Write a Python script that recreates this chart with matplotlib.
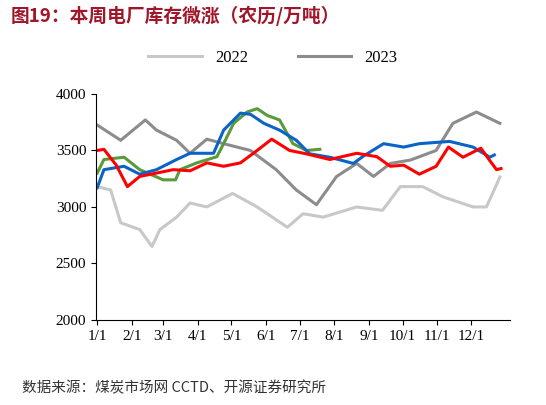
import matplotlib.pyplot as plt

plt.rcParams['font.family'] = ['Noto Sans CJK SC', 'DejaVu Sans']

# 农历日序（天） / 库存（万吨）
d22 = [0, 12, 21, 38, 49, 56, 71, 83, 98, 121, 143, 170, 184, 202, 232, 255, 271, 291, 309, 336, 348, 360]
v22 = [3180, 3150, 2860, 2800, 2650, 2800, 2910, 3035, 3000, 3120, 3000, 2820, 2940, 2910, 3000, 2970, 3180, 3180, 3090, 3000, 3000, 3265]

d23 = [0, 21, 43, 53, 71, 83, 98, 113, 137, 160, 178, 196, 214, 232, 247, 262, 280, 303, 318, 339, 360]
v23 = [3725, 3590, 3770, 3680, 3590, 3475, 3600, 3560, 3500, 3330, 3150, 3020, 3270, 3385, 3270, 3385, 3415, 3500, 3740, 3840, 3740]

d_blue = [0, 6, 24, 38, 53, 71, 83, 104, 113, 128, 137, 149, 163, 178, 190, 208, 229, 238, 256, 274, 288, 315, 336, 351, 355]
v_blue = [3170, 3330, 3360, 3290, 3330, 3420, 3475, 3475, 3680, 3830, 3820, 3740, 3680, 3590, 3470, 3440, 3385, 3450, 3560, 3530, 3560, 3580, 3530, 3440, 3460]

d_red = [0, 6, 17, 27, 38, 53, 68, 83, 98, 113, 128, 143, 156, 172, 187, 208, 232, 250, 262, 274, 288, 303, 314, 327, 343, 351, 357, 361]
v_red = [3500, 3510, 3370, 3180, 3270, 3300, 3330, 3320, 3390, 3360, 3390, 3500, 3600, 3500, 3470, 3420, 3475, 3445, 3360, 3370, 3290, 3360, 3530, 3440, 3520, 3410, 3330, 3340]

d_green = [0, 6, 24, 38, 59, 70, 74, 89, 107, 113, 122, 134, 143, 152, 163, 175, 187, 199]
v_green = [3300, 3420, 3440, 3330, 3240, 3240, 3330, 3390, 3445, 3560, 3740, 3840, 3870, 3810, 3770, 3560, 3500, 3510]

month_days = [0, 31, 59, 90, 120, 151, 181, 212, 243, 273, 304, 334]
month_labels = ['1/1', '2/1', '3/1', '4/1', '5/1', '6/1', '7/1', '8/1', '9/1', '10/1', '11/1', '12/1']

fig = plt.figure(figsize=(5.46, 4.05), dpi=100)
ax = fig.add_axes([0.176, 0.21, 0.758, 0.558])

l22, = ax.plot(d22, v22, color='#c8c8c8', lw=2.2, label='2022')
l23, = ax.plot(d23, v23, color='#8c8c8c', lw=2.2, label='2023')
ax.plot(d_green, v_green, color='#5b9a3a', lw=2.2)
ax.plot(d_blue, v_blue, color='#0a64c8', lw=2.2)
ax.plot(d_red, v_red, color='#ff0000', lw=2.2)

ax.set_xlim(-1, 369)
ax.set_ylim(2000, 4000)
ax.set_yticks([2000, 2500, 3000, 3500, 4000])
ax.set_xticks(month_days)
ax.set_xticklabels(month_labels)
for s in ['top', 'right']:
    ax.spines[s].set_visible(False)
ax.tick_params(labelsize=11)
for t in ax.get_xticklabels() + ax.get_yticklabels():
    t.set_fontfamily(['Liberation Serif', 'DejaVu Serif'])

fig.legend(handles=[l22, l23], loc='center', bbox_to_anchor=(0.5, 0.858), ncol=2,
           frameon=False, prop={'family': 'Liberation Serif', 'size': 12},
           handlelength=3.2, columnspacing=3)

fig.text(0.02, 0.962, '图19：本周电厂库存微涨（农历/万吨）', color='#a0162a',
         fontsize=13.5, fontweight='bold', va='center')
fig.text(0.04, 0.042, '数据来源：煤炭市场网 CCTD、开源证券研究所', fontsize=10.5,
         color='#333333', va='center')

fig.savefig('out.png', dpi=100)
